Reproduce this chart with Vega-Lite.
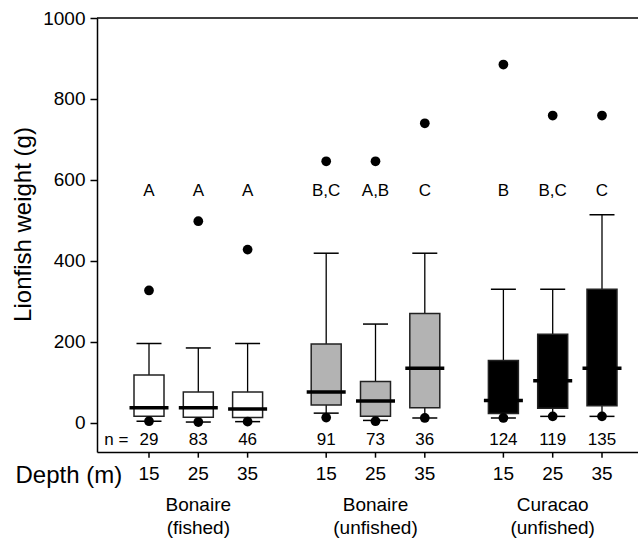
{
  "$schema": "https://vega.github.io/schema/vega-lite/v6.json",
  "width": 541,
  "height": 434,
  "autosize": {"type": "none"},
  "padding": {"left": 97, "top": 18, "right": 0, "bottom": 88},
  "background": "white",
  "config": {"view": {"stroke": null}, "font": "Liberation Sans", "axis": {"grid": false}},
  "data": {"values": [
    {"site": "Bonaire (fished)", "depth": 15, "lo": 4, "q1": 16, "med": 37, "q3": 118, "hi": 196, "pLow": 4, "pHigh": 327, "letter": "A", "n": 29},
    {"site": "Bonaire (fished)", "depth": 25, "lo": 2, "q1": 14, "med": 37, "q3": 76, "hi": 185, "pLow": 2, "pHigh": 498, "letter": "A", "n": 83},
    {"site": "Bonaire (fished)", "depth": 35, "lo": 3, "q1": 13, "med": 34, "q3": 76, "hi": 196, "pLow": 3, "pHigh": 428, "letter": "A", "n": 46},
    {"site": "Bonaire (unfished)", "depth": 15, "lo": 24, "q1": 44, "med": 76, "q3": 195, "hi": 419, "pLow": 13, "pHigh": 646, "letter": "B,C", "n": 91},
    {"site": "Bonaire (unfished)", "depth": 25, "lo": 6, "q1": 16, "med": 54, "q3": 102, "hi": 244, "pLow": 4, "pHigh": 646, "letter": "A,B", "n": 73},
    {"site": "Bonaire (unfished)", "depth": 35, "lo": 12, "q1": 37, "med": 135, "q3": 270, "hi": 419, "pLow": 12, "pHigh": 740, "letter": "C", "n": 36},
    {"site": "Curacao (unfished)", "depth": 15, "lo": 12, "q1": 23, "med": 55, "q3": 154, "hi": 330, "pLow": 12, "pHigh": 885, "letter": "B", "n": 124},
    {"site": "Curacao (unfished)", "depth": 25, "lo": 16, "q1": 36, "med": 104, "q3": 219, "hi": 330, "pLow": 16, "pHigh": 759, "letter": "B,C", "n": 119},
    {"site": "Curacao (unfished)", "depth": 35, "lo": 16, "q1": 42, "med": 135, "q3": 330, "hi": 514, "pLow": 16, "pHigh": 759, "letter": "C", "n": 135}
  ]},
  "layer": [
    {
      "mark": {"type": "rule", "color": "black", "strokeWidth": 1.3},
      "encoding": {
        "x": {"field": "site", "type": "nominal",
          "scale": {"type": "band", "paddingInner": 0.1653, "paddingOuter": 0.1092, "align": 0.7067},
          "axis": {"orient": "bottom", "title": "Depth (m)", "titleX": -82, "titleY": 23, "titleAlign": "left", "titleBaseline": "middle", "titleAngle": 0, "titleFontSize": 24, "titleFontWeight": "normal", "titleColor": "black", "labelExpr": "split(datum.label, ' ')", "labelFontSize": 19, "labelLineHeight": 23, "labelPadding": 43, "labelBaseline": "top", "labelAngle": 0, "labelColor": "black", "ticks": false, "domainColor": "black", "domainWidth": 1.5}},
        "xOffset": {"field": "depth", "type": "ordinal", "scale": {"paddingInner": 0, "paddingOuter": 0}},
        "y": {"field": "lo", "type": "quantitative",
          "scale": {"domain": [-72, 1000], "nice": false, "zero": false},
          "axis": {"values": [0, 200, 400, 600, 800, 1000], "format": "d", "title": "Lionfish weight (g)", "titleFontSize": 24, "titleFontWeight": "normal", "titleColor": "black", "titleX": -62, "titleY": 206, "titleBaseline": "bottom", "labelFontSize": 19, "labelColor": "black", "labelPadding": 5, "tickSize": 7, "tickColor": "black", "tickWidth": 1.5, "domainColor": "black", "domainWidth": 1.5}},
        "y2": {"field": "hi"}
      }
    },
    {
      "mark": {"type": "tick", "color": "black", "size": 25, "thickness": 1.5, "opacity": 1},
      "encoding": {
        "x": {"field": "site", "type": "nominal"},
        "xOffset": {"field": "depth", "type": "ordinal"},
        "y": {"field": "hi", "type": "quantitative"}
      }
    },
    {
      "mark": {"type": "tick", "color": "black", "size": 25, "thickness": 1.5, "opacity": 1},
      "encoding": {
        "x": {"field": "site", "type": "nominal"},
        "xOffset": {"field": "depth", "type": "ordinal"},
        "y": {"field": "lo", "type": "quantitative"}
      }
    },
    {
      "mark": {"type": "bar", "width": 30, "stroke": "#222222", "strokeWidth": 1.5, "opacity": 1},
      "encoding": {
        "x": {"field": "site", "type": "nominal"},
        "xOffset": {"field": "depth", "type": "ordinal"},
        "y": {"field": "q1", "type": "quantitative"},
        "y2": {"field": "q3"},
        "fill": {"field": "site", "type": "nominal", "legend": null,
          "scale": {"domain": ["Bonaire (fished)", "Bonaire (unfished)", "Curacao (unfished)"], "range": ["#ffffff", "#b3b3b3", "#000000"]}}
      }
    },
    {
      "mark": {"type": "tick", "color": "black", "size": 39, "thickness": 3.5, "opacity": 1},
      "encoding": {
        "x": {"field": "site", "type": "nominal"},
        "xOffset": {"field": "depth", "type": "ordinal"},
        "y": {"field": "med", "type": "quantitative"}
      }
    },
    {
      "mark": {"type": "point", "filled": true, "color": "black", "size": 95, "opacity": 1},
      "encoding": {
        "x": {"field": "site", "type": "nominal"},
        "xOffset": {"field": "depth", "type": "ordinal"},
        "y": {"field": "pLow", "type": "quantitative"}
      }
    },
    {
      "mark": {"type": "point", "filled": true, "color": "black", "size": 95, "opacity": 1},
      "encoding": {
        "x": {"field": "site", "type": "nominal"},
        "xOffset": {"field": "depth", "type": "ordinal"},
        "y": {"field": "pHigh", "type": "quantitative"}
      }
    },
    {
      "mark": {"type": "text", "color": "black", "fontSize": 17, "baseline": "middle"},
      "encoding": {
        "x": {"field": "site", "type": "nominal"},
        "xOffset": {"field": "depth", "type": "ordinal"},
        "y": {"datum": 572},
        "text": {"field": "letter"}
      }
    },
    {
      "mark": {"type": "text", "color": "black", "fontSize": 17, "baseline": "middle"},
      "encoding": {
        "x": {"field": "site", "type": "nominal"},
        "xOffset": {"field": "depth", "type": "ordinal"},
        "y": {"datum": -43},
        "text": {"field": "n"}
      }
    },
    {
      "data": {"values": [{"label": "n ="}]},
      "mark": {"type": "text", "color": "black", "fontSize": 17, "baseline": "middle", "align": "right", "dx": 4},
      "encoding": {
        "x": {"datum": "Bonaire (fished)", "type": "nominal", "bandPosition": 0},
        "y": {"datum": -43},
        "text": {"field": "label"}
      }
    },
    {
      "mark": {"type": "text", "color": "black", "fontSize": 19, "baseline": "middle"},
      "encoding": {
        "x": {"field": "site", "type": "nominal"},
        "xOffset": {"field": "depth", "type": "ordinal"},
        "y": {"datum": -126},
        "text": {"field": "depth"}
      }
    },
    {
      "mark": {"type": "rule", "color": "black", "strokeWidth": 1.5},
      "encoding": {
        "x": {"field": "site", "type": "nominal"},
        "xOffset": {"field": "depth", "type": "ordinal"},
        "y": {"datum": -72},
        "y2": {"datum": -86}
      }
    },
    {
      "data": {"values": [{}]},
      "mark": {"type": "rule", "color": "black", "strokeWidth": 1.5},
      "encoding": {
        "y": {"datum": 1000}
      }
    }
  ]
}
